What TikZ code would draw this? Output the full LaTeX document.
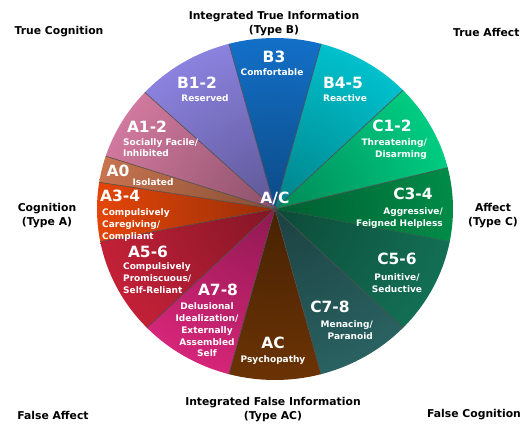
\documentclass[tikz,border=0pt]{standalone}
\usepackage{fontspec}
\setmainfont{DejaVu Sans}

\definecolor{cthreefour}{RGB}{0,150,78}
\definecolor{conetwo}{RGB}{0,220,140}
\definecolor{bfourfive}{RGB}{0,208,220}
\definecolor{bthree}{RGB}{20,120,215}
\definecolor{bonetwo}{RGB}{150,140,240}
\definecolor{aonetwo}{RGB}{225,130,170}
\definecolor{azero}{RGB}{215,125,85}
\definecolor{athreefour}{RGB}{245,75,10}
\definecolor{afivesix}{RGB}{210,35,60}
\definecolor{aseveneight}{RGB}{230,40,130}
\definecolor{acbrown}{RGB}{115,55,5}
\definecolor{cseveneight}{RGB}{45,105,105}
\definecolor{cfivesix}{RGB}{20,120,90}

\begin{document}
\begin{tikzpicture}[x=1pt, y=-1pt,
    outer/.style={font=\fontsize{10.8}{14}\selectfont\bfseries, align=center, inner sep=0pt},
    code/.style={font=\fontsize{15.5}{16}\selectfont\bfseries, text=white, inner sep=0pt},
    sub/.style={font=\fontsize{9}{11.7}\selectfont\bfseries, text=white, inner sep=0pt},
    edge line/.style={draw=black!70, line width=0.6pt}]
    \useasboundingbox (0,0) rectangle (523,425);
    \coordinate (c) at (275,209);

    %the slices: start angle / end angle / rim colour, darker towards the middle
    \foreach \a/\b/\rim in {349/374/cthreefour, 14/44/conetwo, 44/75/bfourfive,
        75/105/bthree, 105/137/bonetwo, 137/162/aonetwo, 162/171/azero,
        171/191/athreefour, 191/224/afivesix, 224/255/aseveneight,
        255/285/acbrown, 285/316/cseveneight, 316/349/cfivesix}{
        \begin{scope}
            \clip (c) -- ++(-\a:178 and 171) arc[start angle=-\a, end angle=-\b,
                x radius=178, y radius=171] -- cycle;
            \shade[inner color=\rim!62!black, outer color=\rim] (c) circle [x radius=220, y radius=212];
        \end{scope}
        \draw[edge line] (c) -- ++(-\a:178 and 171);
    }

    %the middle
    \node[code] (acmid) at (275,198) {A/C};

    %B slices
    \node[code] (b3) at (274,57) {B3};
    \node[sub] (b3txt) at (272,72) {Comfortable};
    \node[code] (b12) at (197,83) {B1-2};
    \node[sub] (b12txt) at (205,98) {Reserved};
    \node[code] (b45) at (343,83) {B4-5};
    \node[sub] (b45txt) at (345,98) {Reactive};

    %A slices
    \node[code] (a12) at (147,127) {A1-2};
    \node[sub, align=left, anchor=west] (a12txt) at (123,147.5) {Socially Facile/\\Inhibited};
    \node[code] (a0) at (118,171) {A0};
    \node[sub] (a0txt) at (153,182) {Isolated};
    \node[code, anchor=west] (a34) at (100,196) {A3-4};
    \node[sub, align=left, anchor=west] (a34txt) at (102,225) {Compulsively\\Caregiving/\\Compliant};
    \node[code] (a56) at (148,252) {A5-6};
    \node[sub, align=left, anchor=west] (a56txt) at (123,278) {Compulsively\\Promiscuous/\\Self-Reliant};
    \node[code] (a78) at (218,290) {A7-8};
    \node[sub, align=center] (a78txt) at (207,330) {Delusional\\Idealization/\\Externally\\Assembled\\Self};
    \node[code] (ac) at (273,343) {AC};
    \node[sub] (actxt) at (273,360) {Psychopathy};

    %C slices
    \node[code] (c78) at (330,307) {C7-8};
    \node[sub, align=right, anchor=east] (c78txt) at (373,330) {Menacing/\\Paranoid};
    \node[code] (c56) at (397,259) {C5-6};
    \node[sub, align=center] (c56txt) at (397,283) {Punitive/\\Seductive};
    \node[code] (c34) at (413,194) {C3-4};
    \node[sub, align=right, anchor=east] (c34txt) at (443,218) {Aggressive/\\Feigned Helpless};
    \node[code] (c12) at (392,126) {C1-2};
    \node[sub, align=right, anchor=east] (c12txt) at (427,149) {Threatening/\\Disarming};

    %labels round the circle
    \node[outer] (tcog) at (59,32) {True Cognition};
    \node[outer] (itrue) at (274,24) {Integrated True Information\\(Type B)};
    \node[outer, anchor=west] (taff) at (453,32) {True Affect};
    \node[outer] (cog) at (47,216) {Cognition\\(Type A)};
    \node[outer] (aff) at (493,216) {Affect\\(Type C)};
    \node[outer] (faff) at (53,415) {False Affect};
    \node[outer] (ifalse) at (273,410) {Integrated False Information\\(Type AC)};
    \node[outer, anchor=west] (fcog) at (427,415) {False Cognition};
\end{tikzpicture}
\end{document}
